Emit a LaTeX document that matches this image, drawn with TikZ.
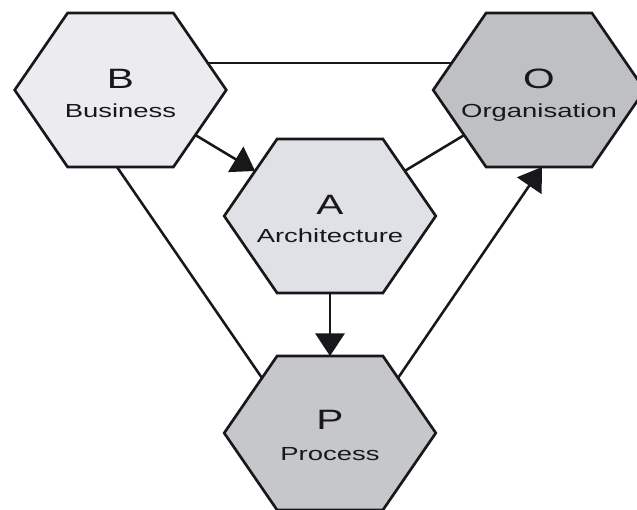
\documentclass[tikz,border=0pt]{standalone}
\usepackage{fontspec}
\setmainfont{Liberation Sans}
\usetikzlibrary{shapes.geometric,arrows.meta,calc}
\definecolor{fillB}{RGB}{236,236,240}
\definecolor{fillA}{RGB}{224,225,230}
\definecolor{fillO}{RGB}{190,192,196}
\definecolor{fillP}{RGB}{197,199,203}
\definecolor{ink}{RGB}{24,24,26}
\begin{document}
\begin{tikzpicture}[x=0.75pt,y=-0.75pt,
  hexa/.style={regular polygon, regular polygon sides=6, minimum size=133.35pt,
    inner sep=0pt, outer sep=0pt, xscale=1.19, draw=ink, line width=2pt},
  bigletter/.style={anchor=base, inner sep=0pt, font=\fontsize{21}{21}\selectfont, text=ink, xscale=1.45},
  smalltext/.style={anchor=base, inner sep=0pt, font=\fontsize{14.2}{14.2}\selectfont, text=ink, xscale=1.45},
  conn/.style={line width=1.9pt, draw=ink},
  arr/.style={conn, -{Triangle[length=17pt,width=22pt]}}]
\useasboundingbox (0,0) rectangle (637,510);
\fill[white] (0,0) rectangle (637,510);
% hexagons
\node[hexa, fill=fillB] (B) at (120.5,90) {};
\node[hexa, fill=fillO] (O) at (539,90) {};
\node[hexa, fill=fillA] (A) at (330,216) {};
\node[hexa, fill=fillP] (P) at (330,433) {};
% texts
\node[bigletter] (Bl) at ($(B)+(0,-1)$) {B};
\node[smalltext] (Bt) at ($(B)+(0,28)$) {Business};
\node[bigletter] (Ol) at ($(O)+(0,-1)$) {O};
\node[smalltext] (Ot) at ($(O)+(0,28)$) {Organisation};
\node[bigletter] (Al) at ($(A)+(0,-1)$) {A};
\node[smalltext] (At) at ($(A)+(0,27)$) {Architecture};
\node[bigletter] (Pl) at ($(P)+(0,-3)$) {P};
\node[smalltext] (Pt) at ($(P)+(0,27)$) {Process};
% connectors
\draw[conn] ($(B)+(87.3,-27)$) -- ($(O)+(-87.3,-27)$);
\draw[arr] (B) -- (A);
\draw[conn] (A) -- (O);
\draw[arr] (A) -- (P);
\draw[conn] ($(B)+(-3.5,77)$) -- ($(P)+(-68,-55)$);
\draw[arr] ($(P)+(68,-55)$) -- ($(O)+(3,77)$);
\end{tikzpicture}
\end{document}
